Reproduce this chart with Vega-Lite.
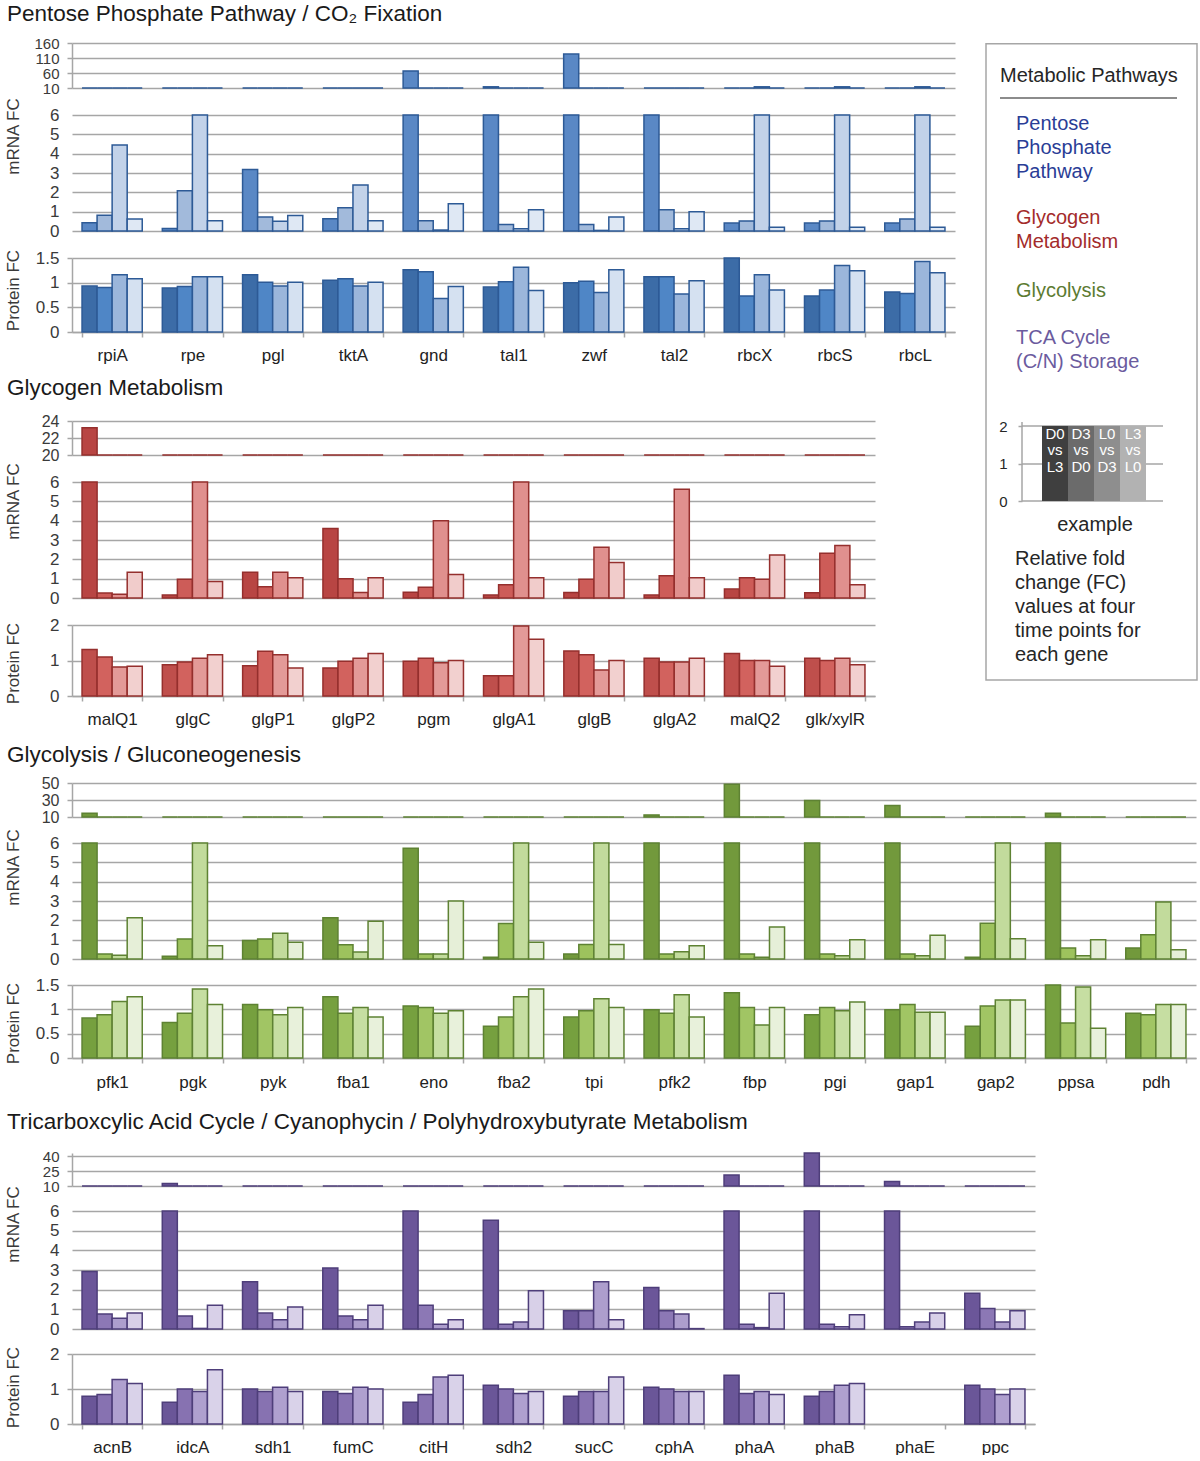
{
"$schema": "https://vega.github.io/schema/vega-lite/v6.json",
"background": "white",
"padding": {"left": 4, "top": 2, "right": 0, "bottom": 0},
"config": {
  "font": "Liberation Sans",
  "view": {"stroke": null},
  "title": {"fontSize": 22.5, "fontWeight": "normal", "color": "#1a1a1a", "font": "Liberation Sans"},
  "axis": {"labelFont": "Liberation Sans", "titleFont": "Liberation Sans", "labelFontSize": 17, "labelColor": "#3a3a3a", "titleFontSize": 17, "titleFontWeight": "normal", "titleColor": "#3a3a3a", "gridColor": "#a6a6a6", "gridWidth": 1.5, "domainColor": "#a6a6a6", "domainWidth": 1.5, "tickColor": "#a6a6a6", "tickWidth": 1.5, "tickSize": 5, "labelPadding": 8, "labelOverlap": false},
  "axisX": {"grid": false, "labelAngle": 0},
  "text": {"font": "Liberation Sans"}
},
"datasets": {
  "s1": [
    {"gene":"rpiA","cmp":"D0 vs L3","mrna":0.43,"protein":0.93},{"gene":"rpiA","cmp":"D3 vs D0","mrna":0.81,"protein":0.9},{"gene":"rpiA","cmp":"L0 vs D3","mrna":4.45,"protein":1.16},{"gene":"rpiA","cmp":"L3 vs L0","mrna":0.62,"protein":1.08},
    {"gene":"rpe","cmp":"D0 vs L3","mrna":0.13,"protein":0.89},{"gene":"rpe","cmp":"D3 vs D0","mrna":2.08,"protein":0.92},{"gene":"rpe","cmp":"L0 vs D3","mrna":8,"protein":1.12},{"gene":"rpe","cmp":"L3 vs L0","mrna":0.53,"protein":1.12},
    {"gene":"pgl","cmp":"D0 vs L3","mrna":3.18,"protein":1.16},{"gene":"pgl","cmp":"D3 vs D0","mrna":0.72,"protein":1.01},{"gene":"pgl","cmp":"L0 vs D3","mrna":0.5,"protein":0.93},{"gene":"pgl","cmp":"L3 vs L0","mrna":0.8,"protein":1.01},
    {"gene":"tktA","cmp":"D0 vs L3","mrna":0.64,"protein":1.05},{"gene":"tktA","cmp":"D3 vs D0","mrna":1.2,"protein":1.08},{"gene":"tktA","cmp":"L0 vs D3","mrna":2.38,"protein":0.93},{"gene":"tktA","cmp":"L3 vs L0","mrna":0.53,"protein":1.01},
    {"gene":"gnd","cmp":"D0 vs L3","mrna":67,"protein":1.26},{"gene":"gnd","cmp":"D3 vs D0","mrna":0.53,"protein":1.22},{"gene":"gnd","cmp":"L0 vs D3","mrna":0.05,"protein":0.68},{"gene":"gnd","cmp":"L3 vs L0","mrna":1.41,"protein":0.92},
    {"gene":"tal1","cmp":"D0 vs L3","mrna":14,"protein":0.91},{"gene":"tal1","cmp":"D3 vs D0","mrna":0.34,"protein":1.02},{"gene":"tal1","cmp":"L0 vs D3","mrna":0.12,"protein":1.31},{"gene":"tal1","cmp":"L3 vs L0","mrna":1.1,"protein":0.84},
    {"gene":"zwf","cmp":"D0 vs L3","mrna":123,"protein":1.0},{"gene":"zwf","cmp":"D3 vs D0","mrna":0.33,"protein":1.03},{"gene":"zwf","cmp":"L0 vs D3","mrna":0.03,"protein":0.8},{"gene":"zwf","cmp":"L3 vs L0","mrna":0.72,"protein":1.26},
    {"gene":"tal2","cmp":"D0 vs L3","mrna":8,"protein":1.12},{"gene":"tal2","cmp":"D3 vs D0","mrna":1.1,"protein":1.12},{"gene":"tal2","cmp":"L0 vs D3","mrna":0.12,"protein":0.77},{"gene":"tal2","cmp":"L3 vs L0","mrna":1.0,"protein":1.04},
    {"gene":"rbcX","cmp":"D0 vs L3","mrna":0.41,"protein":1.5},{"gene":"rbcX","cmp":"D3 vs D0","mrna":0.52,"protein":0.73},{"gene":"rbcX","cmp":"L0 vs D3","mrna":14,"protein":1.16},{"gene":"rbcX","cmp":"L3 vs L0","mrna":0.2,"protein":0.85},
    {"gene":"rbcS","cmp":"D0 vs L3","mrna":0.41,"protein":0.73},{"gene":"rbcS","cmp":"D3 vs D0","mrna":0.52,"protein":0.85},{"gene":"rbcS","cmp":"L0 vs D3","mrna":14,"protein":1.35},{"gene":"rbcS","cmp":"L3 vs L0","mrna":0.2,"protein":1.24},
    {"gene":"rbcL","cmp":"D0 vs L3","mrna":0.41,"protein":0.81},{"gene":"rbcL","cmp":"D3 vs D0","mrna":0.62,"protein":0.78},{"gene":"rbcL","cmp":"L0 vs D3","mrna":14,"protein":1.43},{"gene":"rbcL","cmp":"L3 vs L0","mrna":0.2,"protein":1.2}
  ],
  "s2": [
    {"gene":"malQ1","cmp":"D0 vs L3","mrna":23.2,"protein":1.31},{"gene":"malQ1","cmp":"D3 vs D0","mrna":0.26,"protein":1.1},{"gene":"malQ1","cmp":"L0 vs D3","mrna":0.2,"protein":0.82},{"gene":"malQ1","cmp":"L3 vs L0","mrna":1.33,"protein":0.84},
    {"gene":"glgC","cmp":"D0 vs L3","mrna":0.15,"protein":0.88},{"gene":"glgC","cmp":"D3 vs D0","mrna":0.97,"protein":0.96},{"gene":"glgC","cmp":"L0 vs D3","mrna":10,"protein":1.06},{"gene":"glgC","cmp":"L3 vs L0","mrna":0.85,"protein":1.16},
    {"gene":"glgP1","cmp":"D0 vs L3","mrna":1.33,"protein":0.85},{"gene":"glgP1","cmp":"D3 vs D0","mrna":0.58,"protein":1.26},{"gene":"glgP1","cmp":"L0 vs D3","mrna":1.33,"protein":1.16},{"gene":"glgP1","cmp":"L3 vs L0","mrna":1.05,"protein":0.79},
    {"gene":"glgP2","cmp":"D0 vs L3","mrna":3.6,"protein":0.79},{"gene":"glgP2","cmp":"D3 vs D0","mrna":1.0,"protein":0.98},{"gene":"glgP2","cmp":"L0 vs D3","mrna":0.29,"protein":1.06},{"gene":"glgP2","cmp":"L3 vs L0","mrna":1.05,"protein":1.2},
    {"gene":"pgm","cmp":"D0 vs L3","mrna":0.3,"protein":0.98},{"gene":"pgm","cmp":"D3 vs D0","mrna":0.56,"protein":1.06},{"gene":"pgm","cmp":"L0 vs D3","mrna":4.0,"protein":0.94},{"gene":"pgm","cmp":"L3 vs L0","mrna":1.22,"protein":1.0},
    {"gene":"glgA1","cmp":"D0 vs L3","mrna":0.15,"protein":0.57},{"gene":"glgA1","cmp":"D3 vs D0","mrna":0.68,"protein":0.57},{"gene":"glgA1","cmp":"L0 vs D3","mrna":10,"protein":1.97},{"gene":"glgA1","cmp":"L3 vs L0","mrna":1.05,"protein":1.6},
    {"gene":"glgB","cmp":"D0 vs L3","mrna":0.29,"protein":1.27},{"gene":"glgB","cmp":"D3 vs D0","mrna":0.97,"protein":1.16},{"gene":"glgB","cmp":"L0 vs D3","mrna":2.62,"protein":0.73},{"gene":"glgB","cmp":"L3 vs L0","mrna":1.84,"protein":1.0},
    {"gene":"glgA2","cmp":"D0 vs L3","mrna":0.15,"protein":1.06},{"gene":"glgA2","cmp":"D3 vs D0","mrna":1.15,"protein":0.96},{"gene":"glgA2","cmp":"L0 vs D3","mrna":5.62,"protein":0.96},{"gene":"glgA2","cmp":"L3 vs L0","mrna":1.05,"protein":1.06},
    {"gene":"malQ2","cmp":"D0 vs L3","mrna":0.46,"protein":1.2},{"gene":"malQ2","cmp":"D3 vs D0","mrna":1.05,"protein":1.0},{"gene":"malQ2","cmp":"L0 vs D3","mrna":0.97,"protein":1.0},{"gene":"malQ2","cmp":"L3 vs L0","mrna":2.22,"protein":0.84},
    {"gene":"glk/xylR","cmp":"D0 vs L3","mrna":0.27,"protein":1.06},{"gene":"glk/xylR","cmp":"D3 vs D0","mrna":2.32,"protein":1.0},{"gene":"glk/xylR","cmp":"L0 vs D3","mrna":2.71,"protein":1.06},{"gene":"glk/xylR","cmp":"L3 vs L0","mrna":0.68,"protein":0.88}
  ],
  "s3": [
    {"gene":"pfk1","cmp":"D0 vs L3","mrna":14.5,"protein":0.82},{"gene":"pfk1","cmp":"D3 vs D0","mrna":0.26,"protein":0.89},{"gene":"pfk1","cmp":"L0 vs D3","mrna":0.19,"protein":1.16},{"gene":"pfk1","cmp":"L3 vs L0","mrna":2.13,"protein":1.26},
    {"gene":"pgk","cmp":"D0 vs L3","mrna":0.14,"protein":0.73},{"gene":"pgk","cmp":"D3 vs D0","mrna":1.04,"protein":0.92},{"gene":"pgk","cmp":"L0 vs D3","mrna":8,"protein":1.42},{"gene":"pgk","cmp":"L3 vs L0","mrna":0.68,"protein":1.1},
    {"gene":"pyk","cmp":"D0 vs L3","mrna":0.96,"protein":1.1},{"gene":"pyk","cmp":"D3 vs D0","mrna":1.04,"protein":0.99},{"gene":"pyk","cmp":"L0 vs D3","mrna":1.33,"protein":0.89},{"gene":"pyk","cmp":"L3 vs L0","mrna":0.86,"protein":1.04},
    {"gene":"fba1","cmp":"D0 vs L3","mrna":2.13,"protein":1.26},{"gene":"fba1","cmp":"D3 vs D0","mrna":0.74,"protein":0.92},{"gene":"fba1","cmp":"L0 vs D3","mrna":0.36,"protein":1.04},{"gene":"fba1","cmp":"L3 vs L0","mrna":1.95,"protein":0.84},
    {"gene":"eno","cmp":"D0 vs L3","mrna":5.73,"protein":1.07},{"gene":"eno","cmp":"D3 vs D0","mrna":0.26,"protein":1.04},{"gene":"eno","cmp":"L0 vs D3","mrna":0.26,"protein":0.92},{"gene":"eno","cmp":"L3 vs L0","mrna":3.0,"protein":0.97},
    {"gene":"fba2","cmp":"D0 vs L3","mrna":0.09,"protein":0.65},{"gene":"fba2","cmp":"D3 vs D0","mrna":1.83,"protein":0.84},{"gene":"fba2","cmp":"L0 vs D3","mrna":8,"protein":1.26},{"gene":"fba2","cmp":"L3 vs L0","mrna":0.86,"protein":1.42},
    {"gene":"tpi","cmp":"D0 vs L3","mrna":0.26,"protein":0.84},{"gene":"tpi","cmp":"D3 vs D0","mrna":0.75,"protein":0.97},{"gene":"tpi","cmp":"L0 vs D3","mrna":8,"protein":1.22},{"gene":"tpi","cmp":"L3 vs L0","mrna":0.75,"protein":1.04},
    {"gene":"pfk2","cmp":"D0 vs L3","mrna":12.5,"protein":0.99},{"gene":"pfk2","cmp":"D3 vs D0","mrna":0.26,"protein":0.92},{"gene":"pfk2","cmp":"L0 vs D3","mrna":0.38,"protein":1.3},{"gene":"pfk2","cmp":"L3 vs L0","mrna":0.69,"protein":0.84},
    {"gene":"fbp","cmp":"D0 vs L3","mrna":48.5,"protein":1.34},{"gene":"fbp","cmp":"D3 vs D0","mrna":0.26,"protein":1.04},{"gene":"fbp","cmp":"L0 vs D3","mrna":0.09,"protein":0.68},{"gene":"fbp","cmp":"L3 vs L0","mrna":1.65,"protein":1.04},
    {"gene":"pgi","cmp":"D0 vs L3","mrna":29.5,"protein":0.89},{"gene":"pgi","cmp":"D3 vs D0","mrna":0.26,"protein":1.04},{"gene":"pgi","cmp":"L0 vs D3","mrna":0.17,"protein":0.97},{"gene":"pgi","cmp":"L3 vs L0","mrna":0.99,"protein":1.15},
    {"gene":"gap1","cmp":"D0 vs L3","mrna":23.5,"protein":0.99},{"gene":"gap1","cmp":"D3 vs D0","mrna":0.26,"protein":1.1},{"gene":"gap1","cmp":"L0 vs D3","mrna":0.17,"protein":0.94},{"gene":"gap1","cmp":"L3 vs L0","mrna":1.23,"protein":0.94},
    {"gene":"gap2","cmp":"D0 vs L3","mrna":0.09,"protein":0.65},{"gene":"gap2","cmp":"D3 vs D0","mrna":1.85,"protein":1.07},{"gene":"gap2","cmp":"L0 vs D3","mrna":8,"protein":1.19},{"gene":"gap2","cmp":"L3 vs L0","mrna":1.05,"protein":1.19},
    {"gene":"ppsa","cmp":"D0 vs L3","mrna":14.5,"protein":1.6},{"gene":"ppsa","cmp":"D3 vs D0","mrna":0.57,"protein":0.72},{"gene":"ppsa","cmp":"L0 vs D3","mrna":0.17,"protein":1.46},{"gene":"ppsa","cmp":"L3 vs L0","mrna":0.99,"protein":0.61},
    {"gene":"pdh","cmp":"D0 vs L3","mrna":0.57,"protein":0.92},{"gene":"pdh","cmp":"D3 vs D0","mrna":1.25,"protein":0.89},{"gene":"pdh","cmp":"L0 vs D3","mrna":2.95,"protein":1.1},{"gene":"pdh","cmp":"L3 vs L0","mrna":0.48,"protein":1.1}
  ],
  "s4": [
    {"gene":"acnB","cmp":"D0 vs L3","mrna":2.92,"protein":0.79},{"gene":"acnB","cmp":"D3 vs D0","mrna":0.76,"protein":0.84},{"gene":"acnB","cmp":"L0 vs D3","mrna":0.55,"protein":1.27},{"gene":"acnB","cmp":"L3 vs L0","mrna":0.81,"protein":1.16},
    {"gene":"idcA","cmp":"D0 vs L3","mrna":12.5,"protein":0.62},{"gene":"idcA","cmp":"D3 vs D0","mrna":0.66,"protein":1.0},{"gene":"idcA","cmp":"L0 vs D3","mrna":0.03,"protein":0.93},{"gene":"idcA","cmp":"L3 vs L0","mrna":1.21,"protein":1.55},
    {"gene":"sdh1","cmp":"D0 vs L3","mrna":2.4,"protein":1.0},{"gene":"sdh1","cmp":"D3 vs D0","mrna":0.81,"protein":0.93},{"gene":"sdh1","cmp":"L0 vs D3","mrna":0.47,"protein":1.05},{"gene":"sdh1","cmp":"L3 vs L0","mrna":1.12,"protein":0.93},
    {"gene":"fumC","cmp":"D0 vs L3","mrna":3.1,"protein":0.93},{"gene":"fumC","cmp":"D3 vs D0","mrna":0.66,"protein":0.87},{"gene":"fumC","cmp":"L0 vs D3","mrna":0.47,"protein":1.05},{"gene":"fumC","cmp":"L3 vs L0","mrna":1.21,"protein":1.0},
    {"gene":"citH","cmp":"D0 vs L3","mrna":8,"protein":0.62},{"gene":"citH","cmp":"D3 vs D0","mrna":1.21,"protein":0.84},{"gene":"citH","cmp":"L0 vs D3","mrna":0.24,"protein":1.34},{"gene":"citH","cmp":"L3 vs L0","mrna":0.47,"protein":1.39},
    {"gene":"sdh2","cmp":"D0 vs L3","mrna":5.53,"protein":1.11},{"gene":"sdh2","cmp":"D3 vs D0","mrna":0.24,"protein":1.0},{"gene":"sdh2","cmp":"L0 vs D3","mrna":0.35,"protein":0.87},{"gene":"sdh2","cmp":"L3 vs L0","mrna":1.94,"protein":0.93},
    {"gene":"sucC","cmp":"D0 vs L3","mrna":0.93,"protein":0.79},{"gene":"sucC","cmp":"D3 vs D0","mrna":0.93,"protein":0.93},{"gene":"sucC","cmp":"L0 vs D3","mrna":2.4,"protein":0.93},{"gene":"sucC","cmp":"L3 vs L0","mrna":0.47,"protein":1.34},
    {"gene":"cphA","cmp":"D0 vs L3","mrna":2.11,"protein":1.05},{"gene":"cphA","cmp":"D3 vs D0","mrna":0.93,"protein":1.0},{"gene":"cphA","cmp":"L0 vs D3","mrna":0.76,"protein":0.93},{"gene":"cphA","cmp":"L3 vs L0","mrna":0.02,"protein":0.93},
    {"gene":"phaA","cmp":"D0 vs L3","mrna":21,"protein":1.39},{"gene":"phaA","cmp":"D3 vs D0","mrna":0.24,"protein":0.87},{"gene":"phaA","cmp":"L0 vs D3","mrna":0.07,"protein":0.93},{"gene":"phaA","cmp":"L3 vs L0","mrna":1.82,"protein":0.84},
    {"gene":"phaB","cmp":"D0 vs L3","mrna":44,"protein":0.79},{"gene":"phaB","cmp":"D3 vs D0","mrna":0.24,"protein":0.93},{"gene":"phaB","cmp":"L0 vs D3","mrna":0.12,"protein":1.11},{"gene":"phaB","cmp":"L3 vs L0","mrna":0.73,"protein":1.16},
    {"gene":"phaE","cmp":"D0 vs L3","mrna":14.5,"protein":null},{"gene":"phaE","cmp":"D3 vs D0","mrna":0.12,"protein":null},{"gene":"phaE","cmp":"L0 vs D3","mrna":0.35,"protein":null},{"gene":"phaE","cmp":"L3 vs L0","mrna":0.81,"protein":null},
    {"gene":"ppc","cmp":"D0 vs L3","mrna":1.82,"protein":1.11},{"gene":"ppc","cmp":"D3 vs D0","mrna":1.04,"protein":1.0},{"gene":"ppc","cmp":"L0 vs D3","mrna":0.35,"protein":0.84},{"gene":"ppc","cmp":"L3 vs L0","mrna":0.93,"protein":1.0}
  ],
  "ex": [
    {"cmp":"D0 vs L3","fc":2},{"cmp":"D3 vs D0","fc":2},{"cmp":"L0 vs D3","fc":2},{"cmp":"L3 vs L0","fc":2}
  ]
},
"resolve": {"scale": {"x": "independent", "y": "independent", "xOffset": "independent", "color": "independent"}},
"spacing": 16,
"vconcat": [
 {
  "hconcat": [
   {
    "vconcat": [
     {
      "title": {"text": "Pentose Phosphate Pathway / CO₂ Fixation", "anchor": "start", "offset": 11, "dx": 3},
      "spacing": 27, "bounds": "flush",
      "resolve": {"scale": {"x": "independent", "y": "independent", "xOffset": "independent", "color": "independent"}},
      "vconcat": [
       {"width": 883, "height": 45, "data": {"name": "s1"},
        "mark": {"type": "bar", "stroke": "#2d5a96", "strokeWidth": 1.5},
        "encoding": {
         "x": {"field": "gene", "type": "nominal", "scale": {"domain": ["rpiA","rpe","pgl","tktA","gnd","tal1","zwf","tal2","rbcX","rbcS","rbcL"], "paddingInner": 0.25, "paddingOuter": 0.125}, "axis": null},
         "xOffset": {"field": "cmp", "type": "nominal", "scale": {"domain": ["D0 vs L3","D3 vs D0","L0 vs D3","L3 vs L0"], "paddingInner": 0, "paddingOuter": 0}},
         "y": {"field": "mrna", "type": "quantitative", "scale": {"domain": [10, 160], "zero": false, "nice": false, "clamp": true}, "axis": {"values": [10, 60, 110, 160], "title": null, "format": "d", "labelFontSize": 15}},
         "color": {"field": "cmp", "type": "nominal", "scale": {"domain": ["D0 vs L3","D3 vs D0","L0 vs D3","L3 vs L0"], "range": ["#5a88c5","#a2badb","#c2d2e9","#dfe8f4"]}, "legend": null}
        }},
       {"width": 883, "height": 116, "data": {"name": "s1"},
        "mark": {"type": "bar", "stroke": "#2d5a96", "strokeWidth": 1.5},
        "encoding": {
         "x": {"field": "gene", "type": "nominal", "scale": {"domain": ["rpiA","rpe","pgl","tktA","gnd","tal1","zwf","tal2","rbcX","rbcS","rbcL"], "paddingInner": 0.25, "paddingOuter": 0.125}, "axis": null},
         "xOffset": {"field": "cmp", "type": "nominal", "scale": {"domain": ["D0 vs L3","D3 vs D0","L0 vs D3","L3 vs L0"], "paddingInner": 0, "paddingOuter": 0}},
         "y": {"field": "mrna", "type": "quantitative", "scale": {"domain": [0, 6], "nice": false, "clamp": true}, "axis": {"values": [0,1,2,3,4,5,6], "domain": false, "ticks": false, "labelPadding": 13, "title": "mRNA FC", "titleX": -59, "titleY": 21, "titleBaseline": "middle", "titleAlign": "center", "titleAngle": -90}},
         "color": {"field": "cmp", "type": "nominal", "scale": {"domain": ["D0 vs L3","D3 vs D0","L0 vs D3","L3 vs L0"], "range": ["#5a88c5","#a2badb","#c2d2e9","#dfe8f4"]}, "legend": null}
        }},
       {"width": 883, "height": 74, "data": {"name": "s1"},
        "mark": {"type": "bar", "stroke": "#2d5a96", "strokeWidth": 1.5},
        "encoding": {
         "x": {"field": "gene", "type": "nominal", "scale": {"domain": ["rpiA","rpe","pgl","tktA","gnd","tal1","zwf","tal2","rbcX","rbcS","rbcL"], "paddingInner": 0.25, "paddingOuter": 0.125}, "axis": {"title": null, "tickBand": "extent", "labelPadding": 10, "labelColor": "#222222"}},
         "xOffset": {"field": "cmp", "type": "nominal", "scale": {"domain": ["D0 vs L3","D3 vs D0","L0 vs D3","L3 vs L0"], "paddingInner": 0, "paddingOuter": 0}},
         "y": {"field": "protein", "type": "quantitative", "scale": {"domain": [0, 1.5], "nice": false, "clamp": true}, "axis": {"values": [0, 0.5, 1, 1.5], "format": "~g", "title": "Protein FC", "titleX": -59, "titleY": 32, "titleBaseline": "middle", "titleAlign": "center", "titleAngle": -90}},
         "color": {"field": "cmp", "type": "nominal", "scale": {"domain": ["D0 vs L3","D3 vs D0","L0 vs D3","L3 vs L0"], "range": ["#3c6ca7","#4f86c6","#9bb6db","#d5e1f1"]}, "legend": null}
        }}
      ]
     },
     {
      "title": {"text": "Glycogen Metabolism", "anchor": "start", "offset": 14, "dx": 3},
      "spacing": 27, "bounds": "flush",
      "resolve": {"scale": {"x": "independent", "y": "independent", "xOffset": "independent", "color": "independent"}},
      "vconcat": [
       {"width": 803, "height": 34, "data": {"name": "s2"},
        "mark": {"type": "bar", "stroke": "#952f2d", "strokeWidth": 1.5},
        "encoding": {
         "x": {"field": "gene", "type": "nominal", "scale": {"domain": ["malQ1","glgC","glgP1","glgP2","pgm","glgA1","glgB","glgA2","malQ2","glk/xylR"], "paddingInner": 0.25, "paddingOuter": 0.125}, "axis": null},
         "xOffset": {"field": "cmp", "type": "nominal", "scale": {"domain": ["D0 vs L3","D3 vs D0","L0 vs D3","L3 vs L0"], "paddingInner": 0, "paddingOuter": 0}},
         "y": {"field": "mrna", "type": "quantitative", "scale": {"domain": [20, 24], "zero": false, "nice": false, "clamp": true}, "axis": {"values": [20, 22, 24], "title": null, "format": "d", "labelFontSize": 16}},
         "color": {"field": "cmp", "type": "nominal", "scale": {"domain": ["D0 vs L3","D3 vs D0","L0 vs D3","L3 vs L0"], "range": ["#b84543","#cd5c58","#e0908e","#f1cccb"]}, "legend": null}
        }},
       {"width": 803, "height": 116, "data": {"name": "s2"},
        "mark": {"type": "bar", "stroke": "#952f2d", "strokeWidth": 1.5},
        "encoding": {
         "x": {"field": "gene", "type": "nominal", "scale": {"domain": ["malQ1","glgC","glgP1","glgP2","pgm","glgA1","glgB","glgA2","malQ2","glk/xylR"], "paddingInner": 0.25, "paddingOuter": 0.125}, "axis": null},
         "xOffset": {"field": "cmp", "type": "nominal", "scale": {"domain": ["D0 vs L3","D3 vs D0","L0 vs D3","L3 vs L0"], "paddingInner": 0, "paddingOuter": 0}},
         "y": {"field": "mrna", "type": "quantitative", "scale": {"domain": [0, 6], "nice": false, "clamp": true}, "axis": {"values": [0,1,2,3,4,5,6], "domain": false, "ticks": false, "labelPadding": 13, "title": "mRNA FC", "titleX": -59, "titleY": 19, "titleBaseline": "middle", "titleAlign": "center", "titleAngle": -90}},
         "color": {"field": "cmp", "type": "nominal", "scale": {"domain": ["D0 vs L3","D3 vs D0","L0 vs D3","L3 vs L0"], "range": ["#b84543","#cd5c58","#e0908e","#f1cccb"]}, "legend": null}
        }},
       {"width": 803, "height": 71, "data": {"name": "s2"},
        "mark": {"type": "bar", "stroke": "#952f2d", "strokeWidth": 1.5},
        "encoding": {
         "x": {"field": "gene", "type": "nominal", "scale": {"domain": ["malQ1","glgC","glgP1","glgP2","pgm","glgA1","glgB","glgA2","malQ2","glk/xylR"], "paddingInner": 0.25, "paddingOuter": 0.125}, "axis": {"title": null, "tickBand": "extent", "labelPadding": 10, "labelColor": "#222222"}},
         "xOffset": {"field": "cmp", "type": "nominal", "scale": {"domain": ["D0 vs L3","D3 vs D0","L0 vs D3","L3 vs L0"], "paddingInner": 0, "paddingOuter": 0}},
         "y": {"field": "protein", "type": "quantitative", "scale": {"domain": [0, 2], "nice": false, "clamp": true}, "axis": {"values": [0, 1, 2], "format": "~g", "title": "Protein FC", "titleX": -59, "titleY": 38, "titleBaseline": "middle", "titleAlign": "center", "titleAngle": -90}},
         "color": {"field": "cmp", "type": "nominal", "scale": {"domain": ["D0 vs L3","D3 vs D0","L0 vs D3","L3 vs L0"], "range": ["#bf4f4c","#d2625e","#e39a98","#f2d0cf"]}, "legend": null}
        }}
      ]
     }
    ],
    "spacing": 13,
    "resolve": {"scale": {"x": "independent", "y": "independent", "xOffset": "independent", "color": "independent"}}
   },
   {
    "width": 213, "height": 640,
    "data": {"values": [{}]},
    "resolve": {"scale": {"x": "independent", "y": "independent", "color": "independent"}},
    "layer": [
     {
      "layer": [
       {"mark": {"type": "rect", "fillOpacity": 0, "stroke": "#a6a6a6", "strokeWidth": 1.5},
        "encoding": {"x": {"datum": 1, "type": "quantitative", "scale": {"domain": [0, 213], "nice": false, "zero": false}, "axis": null}, "x2": {"datum": 212}, "y": {"datum": 0.75, "type": "quantitative", "scale": {"domain": [0, 640], "reverse": true, "nice": false, "zero": false}, "axis": null}, "y2": {"datum": 637}}},
       {"mark": {"type": "text", "align": "left", "baseline": "top", "fontSize": 20, "color": "#262626"},
        "encoding": {"x": {"datum": 15, "type": "quantitative", "axis": null}, "y": {"datum": 22.5, "type": "quantitative", "axis": null}, "text": {"value": "Metabolic Pathways"}}},
       {"mark": {"type": "rule", "color": "#8c8c8c", "strokeWidth": 2},
        "encoding": {"x": {"datum": 15, "type": "quantitative", "axis": null}, "x2": {"datum": 192}, "y": {"datum": 55, "type": "quantitative", "axis": null}}},
       {"mark": {"type": "text", "align": "left", "baseline": "top", "fontSize": 20, "lineHeight": 24, "color": "#2a3d96"},
        "encoding": {"x": {"datum": 31, "type": "quantitative", "axis": null}, "y": {"datum": 70.5, "type": "quantitative", "axis": null}, "text": {"value": ["Pentose", "Phosphate", "Pathway"]}}},
       {"mark": {"type": "text", "align": "left", "baseline": "top", "fontSize": 20, "lineHeight": 24, "color": "#a32b2b"},
        "encoding": {"x": {"datum": 31, "type": "quantitative", "axis": null}, "y": {"datum": 164.5, "type": "quantitative", "axis": null}, "text": {"value": ["Glycogen", "Metabolism"]}}},
       {"mark": {"type": "text", "align": "left", "baseline": "top", "fontSize": 20, "lineHeight": 24, "color": "#5c7b32"},
        "encoding": {"x": {"datum": 31, "type": "quantitative", "axis": null}, "y": {"datum": 237.5, "type": "quantitative", "axis": null}, "text": {"value": "Glycolysis"}}},
       {"mark": {"type": "text", "align": "left", "baseline": "top", "fontSize": 20, "lineHeight": 24, "color": "#6b5b9e"},
        "encoding": {"x": {"datum": 31, "type": "quantitative", "axis": null}, "y": {"datum": 284.5, "type": "quantitative", "axis": null}, "text": {"value": ["TCA Cycle", "(C/N) Storage"]}}},
       {"mark": {"type": "rule", "color": "#a6a6a6", "strokeWidth": 1.5},
        "encoding": {"x": {"datum": 37, "type": "quantitative", "axis": null}, "x2": {"datum": 178}, "y": {"datum": 383, "type": "quantitative", "axis": null}}},
       {"mark": {"type": "rule", "color": "#a6a6a6", "strokeWidth": 1.5},
        "encoding": {"x": {"datum": 37, "type": "quantitative", "axis": null}, "x2": {"datum": 178}, "y": {"datum": 421, "type": "quantitative", "axis": null}}},
       {"mark": {"type": "rule", "color": "#a6a6a6", "strokeWidth": 1.5},
        "encoding": {"x": {"datum": 37, "type": "quantitative", "axis": null}, "x2": {"datum": 178}, "y": {"datum": 458, "type": "quantitative", "axis": null}}},
       {"mark": {"type": "rule", "color": "#a6a6a6", "strokeWidth": 1.5},
        "encoding": {"x": {"datum": 37, "type": "quantitative", "axis": null}, "y": {"datum": 379, "type": "quantitative", "axis": null}, "y2": {"datum": 458}}},
       {"mark": {"type": "text", "align": "center", "baseline": "top", "fontSize": 20, "color": "#262626"},
        "encoding": {"x": {"datum": 110, "type": "quantitative", "axis": null}, "y": {"datum": 471.5, "type": "quantitative", "axis": null}, "text": {"value": "example"}}},
       {"mark": {"type": "text", "align": "left", "baseline": "top", "fontSize": 20, "lineHeight": 24, "color": "#262626"},
        "encoding": {"x": {"datum": 30, "type": "quantitative", "axis": null}, "y": {"datum": 505.5, "type": "quantitative", "axis": null}, "text": {"value": ["Relative fold", "change (FC)", "values at four", "time points for", "each gene"]}}}
      ]
     },
     {
      "data": {"name": "ex"},
      "encoding": {
       "x": {"field": "cmp", "type": "nominal", "sort": null, "scale": {"domain": ["D0 vs L3","D3 vs D0","L0 vs D3","L3 vs L0"], "range": [57, 161], "paddingInner": 0, "paddingOuter": 0}, "axis": null}
      },
      "layer": [
       {"mark": {"type": "bar"},
        "encoding": {
         "y": {"field": "fc", "type": "quantitative", "scale": {"domain": [-4.8533, 12.2133], "nice": false, "zero": false}, "axis": {"orient": "left", "offset": -37, "values": [0, 1, 2], "domain": false, "grid": false, "ticks": true, "tickSize": 4, "labelPadding": 11, "labelFontSize": 15, "labelColor": "#262626", "title": null}},
         "color": {"field": "cmp", "type": "nominal", "scale": {"domain": ["D0 vs L3","D3 vs D0","L0 vs D3","L3 vs L0"], "range": ["#3f3f3f","#6b6b6b","#8e8e8e","#b2b2b2"]}, "legend": null}
        }},
       {"mark": {"type": "text", "lineBreak": " ", "baseline": "top", "align": "center", "fontSize": 15, "lineHeight": 16.5, "color": "white"},
        "encoding": {"y": {"datum": 1.98, "type": "quantitative"}, "text": {"field": "cmp"}}}
      ]
     }
    ]
   }
  ],
  "spacing": 30,
  "resolve": {"scale": {"x": "independent", "y": "independent", "xOffset": "independent", "color": "independent"}}
 },
 {
  "spacing": 20,
  "resolve": {"scale": {"x": "independent", "y": "independent", "xOffset": "independent", "color": "independent"}},
  "vconcat": [
   {
    "title": {"text": "Glycolysis / Gluconeogenesis", "anchor": "start", "offset": 9, "dx": 3},
    "spacing": 26, "bounds": "flush",
    "resolve": {"scale": {"x": "independent", "y": "independent", "xOffset": "independent", "color": "independent"}},
    "vconcat": [
     {"width": 1124, "height": 34, "data": {"name": "s3"},
      "mark": {"type": "bar", "stroke": "#5e8233", "strokeWidth": 1.5},
      "encoding": {
       "x": {"field": "gene", "type": "nominal", "scale": {"domain": ["pfk1","pgk","pyk","fba1","eno","fba2","tpi","pfk2","fbp","pgi","gap1","gap2","ppsa","pdh"], "paddingInner": 0.25, "paddingOuter": 0.125}, "axis": null},
       "xOffset": {"field": "cmp", "type": "nominal", "scale": {"domain": ["D0 vs L3","D3 vs D0","L0 vs D3","L3 vs L0"], "paddingInner": 0, "paddingOuter": 0}},
       "y": {"field": "mrna", "type": "quantitative", "scale": {"domain": [10, 50], "zero": false, "nice": false, "clamp": true}, "axis": {"values": [10, 30, 50], "title": null, "format": "d", "labelFontSize": 16}},
       "color": {"field": "cmp", "type": "nominal", "scale": {"domain": ["D0 vs L3","D3 vs D0","L0 vs D3","L3 vs L0"], "range": ["#72993c","#9dc25d","#c2db9c","#e6efd8"]}, "legend": null}
      }},
     {"width": 1124, "height": 116, "data": {"name": "s3"},
      "mark": {"type": "bar", "stroke": "#5e8233", "strokeWidth": 1.5},
      "encoding": {
       "x": {"field": "gene", "type": "nominal", "scale": {"domain": ["pfk1","pgk","pyk","fba1","eno","fba2","tpi","pfk2","fbp","pgi","gap1","gap2","ppsa","pdh"], "paddingInner": 0.25, "paddingOuter": 0.125}, "axis": null},
       "xOffset": {"field": "cmp", "type": "nominal", "scale": {"domain": ["D0 vs L3","D3 vs D0","L0 vs D3","L3 vs L0"], "paddingInner": 0, "paddingOuter": 0}},
       "y": {"field": "mrna", "type": "quantitative", "scale": {"domain": [0, 6], "nice": false, "clamp": true}, "axis": {"values": [0,1,2,3,4,5,6], "domain": false, "ticks": false, "labelPadding": 13, "title": "mRNA FC", "titleX": -59, "titleY": 24, "titleBaseline": "middle", "titleAlign": "center", "titleAngle": -90}},
       "color": {"field": "cmp", "type": "nominal", "scale": {"domain": ["D0 vs L3","D3 vs D0","L0 vs D3","L3 vs L0"], "range": ["#72993c","#9dc25d","#c2db9c","#e6efd8"]}, "legend": null}
      }},
     {"width": 1124, "height": 73, "data": {"name": "s3"},
      "mark": {"type": "bar", "stroke": "#5e8233", "strokeWidth": 1.5},
      "encoding": {
       "x": {"field": "gene", "type": "nominal", "scale": {"domain": ["pfk1","pgk","pyk","fba1","eno","fba2","tpi","pfk2","fbp","pgi","gap1","gap2","ppsa","pdh"], "paddingInner": 0.25, "paddingOuter": 0.125}, "axis": {"title": null, "tickBand": "extent", "labelPadding": 11, "labelColor": "#222222"}},
       "xOffset": {"field": "cmp", "type": "nominal", "scale": {"domain": ["D0 vs L3","D3 vs D0","L0 vs D3","L3 vs L0"], "paddingInner": 0, "paddingOuter": 0}},
       "y": {"field": "protein", "type": "quantitative", "scale": {"domain": [0, 1.5], "nice": false, "clamp": true}, "axis": {"values": [0, 0.5, 1, 1.5], "format": "~g", "title": "Protein FC", "titleX": -59, "titleY": 38, "titleBaseline": "middle", "titleAlign": "center", "titleAngle": -90}},
       "color": {"field": "cmp", "type": "nominal", "scale": {"domain": ["D0 vs L3","D3 vs D0","L0 vs D3","L3 vs L0"], "range": ["#76a03f","#a1c564","#c6dea2","#e8f1db"]}, "legend": null}
      }}
    ]
   },
   {
    "title": {"text": "Tricarboxcylic Acid Cycle / Cyanophycin / Polyhydroxybutyrate Metabolism", "anchor": "start", "offset": 16, "dx": 3},
    "spacing": 25, "bounds": "flush",
    "resolve": {"scale": {"x": "independent", "y": "independent", "xOffset": "independent", "color": "independent"}},
    "vconcat": [
     {"width": 963, "height": 33, "data": {"name": "s4"},
      "mark": {"type": "bar", "stroke": "#4e3e7a", "strokeWidth": 1.5},
      "encoding": {
       "x": {"field": "gene", "type": "nominal", "scale": {"domain": ["acnB","idcA","sdh1","fumC","citH","sdh2","sucC","cphA","phaA","phaB","phaE","ppc"], "paddingInner": 0.25, "paddingOuter": 0.125}, "axis": null},
       "xOffset": {"field": "cmp", "type": "nominal", "scale": {"domain": ["D0 vs L3","D3 vs D0","L0 vs D3","L3 vs L0"], "paddingInner": 0, "paddingOuter": 0}},
       "y": {"field": "mrna", "type": "quantitative", "scale": {"domain": [10, 43], "zero": false, "nice": false, "clamp": true}, "axis": {"values": [10, 25, 40], "title": null, "format": "d", "labelFontSize": 15}},
       "color": {"field": "cmp", "type": "nominal", "scale": {"domain": ["D0 vs L3","D3 vs D0","L0 vs D3","L3 vs L0"], "range": ["#6b5699","#8c78b5","#ad9ecd","#d8d0e8"]}, "legend": null}
      }},
     {"width": 963, "height": 118, "data": {"name": "s4"},
      "mark": {"type": "bar", "stroke": "#4e3e7a", "strokeWidth": 1.5},
      "encoding": {
       "x": {"field": "gene", "type": "nominal", "scale": {"domain": ["acnB","idcA","sdh1","fumC","citH","sdh2","sucC","cphA","phaA","phaB","phaE","ppc"], "paddingInner": 0.25, "paddingOuter": 0.125}, "axis": null},
       "xOffset": {"field": "cmp", "type": "nominal", "scale": {"domain": ["D0 vs L3","D3 vs D0","L0 vs D3","L3 vs L0"], "paddingInner": 0, "paddingOuter": 0}},
       "y": {"field": "mrna", "type": "quantitative", "scale": {"domain": [0, 6], "nice": false, "clamp": true}, "axis": {"values": [0,1,2,3,4,5,6], "domain": false, "ticks": false, "labelPadding": 13, "title": "mRNA FC", "titleX": -59, "titleY": 13, "titleBaseline": "middle", "titleAlign": "center", "titleAngle": -90}},
       "color": {"field": "cmp", "type": "nominal", "scale": {"domain": ["D0 vs L3","D3 vs D0","L0 vs D3","L3 vs L0"], "range": ["#6b5699","#8c78b5","#ad9ecd","#d8d0e8"]}, "legend": null}
      }},
     {"width": 963, "height": 70, "data": {"name": "s4"},
      "mark": {"type": "bar", "stroke": "#4e3e7a", "strokeWidth": 1.5},
      "encoding": {
       "x": {"field": "gene", "type": "nominal", "scale": {"domain": ["acnB","idcA","sdh1","fumC","citH","sdh2","sucC","cphA","phaA","phaB","phaE","ppc"], "paddingInner": 0.25, "paddingOuter": 0.125}, "axis": {"title": null, "tickBand": "extent", "labelPadding": 10, "labelColor": "#222222"}},
       "xOffset": {"field": "cmp", "type": "nominal", "scale": {"domain": ["D0 vs L3","D3 vs D0","L0 vs D3","L3 vs L0"], "paddingInner": 0, "paddingOuter": 0}},
       "y": {"field": "protein", "type": "quantitative", "scale": {"domain": [0, 2], "nice": false, "clamp": true}, "axis": {"values": [0, 1, 2], "format": "~g", "title": "Protein FC", "titleX": -59, "titleY": 33, "titleBaseline": "middle", "titleAlign": "center", "titleAngle": -90}},
       "color": {"field": "cmp", "type": "nominal", "scale": {"domain": ["D0 vs L3","D3 vs D0","L0 vs D3","L3 vs L0"], "range": ["#6a5698","#8772b1","#afa0cf","#d9d2e9"]}, "legend": null}
      }}
    ]
   }
  ]
 }
]
}
